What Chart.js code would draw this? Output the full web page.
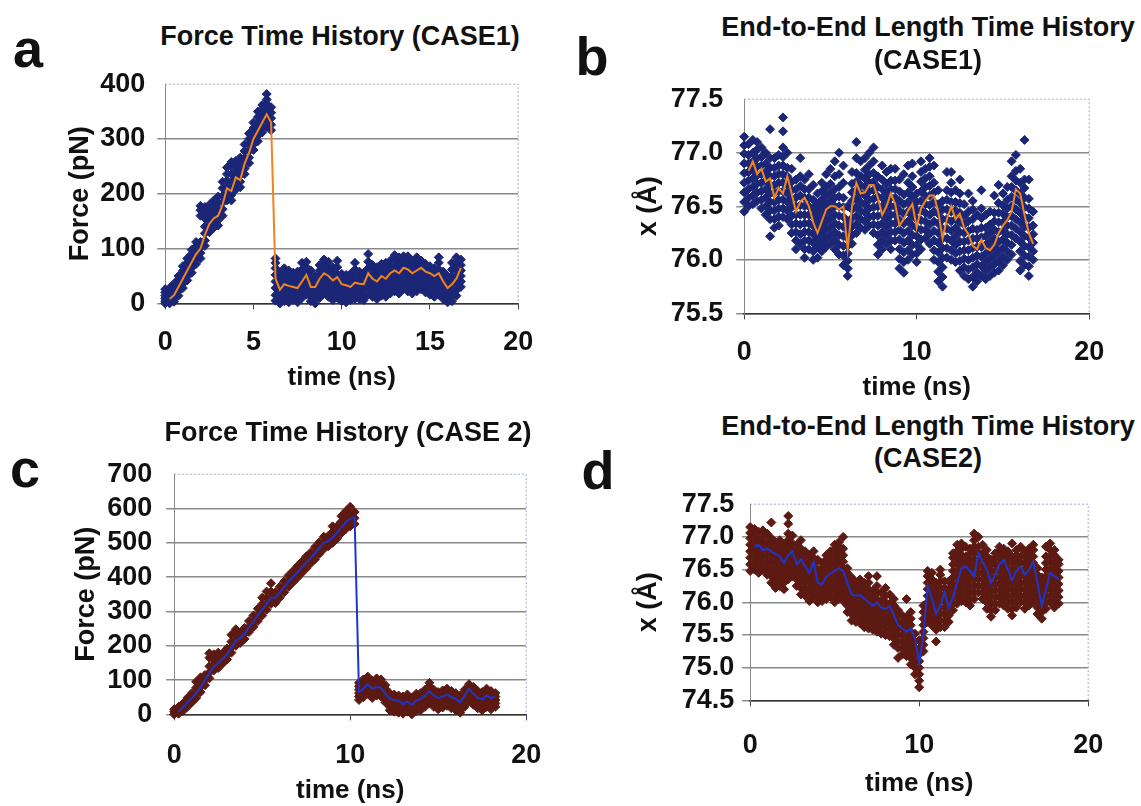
<!DOCTYPE html>
<html>
<head>
<meta charset="utf-8">
<script src="https://cdn.jsdelivr.net/npm/chart.js@4.4.1/dist/chart.umd.min.js"></script>
<style>
  body { margin: 0; background: #fff; width: 1141px; height: 806px; position: relative; overflow: hidden;
         font-family: "Liberation Sans", Arial, sans-serif; font-weight: bold; color: #111; }
  .txt { position: absolute; transform: translate(-50%, -50%); white-space: nowrap; line-height: 1; }
  canvas { position: absolute; }
</style>
</head>
<body>
<script>
// sampling times (ns)
const timeCase1 = [0,0.25,0.5,0.75,1,1.25,1.5,1.75,2,2.25,2.5,2.75,3,3.25,3.5,3.75,4,4.25,4.5,4.75,5,5.25,5.5,5.75,6,6.25,6.5,6.75,7,7.25,7.5,7.75,8,8.25,8.5,8.75,9,9.25,9.5,9.75,10,10.25,10.5,10.75,11,11.25,11.5,11.75,12,12.25,12.5,12.75,13,13.25,13.5,13.75,14,14.25,14.5,14.75,15,15.25,15.5,15.75,16,16.25,16.5,16.75];
const timeCase2 = [0,0.25,0.5,0.75,1,1.25,1.5,1.75,2,2.25,2.5,2.75,3,3.25,3.5,3.75,4,4.25,4.5,4.75,5,5.25,5.5,5.75,6,6.25,6.5,6.75,7,7.25,7.5,7.75,8,8.25,8.5,8.75,9,9.25,9.5,9.75,10,10.25,10.5,10.75,11,11.25,11.5,11.75,12,12.25,12.5,12.75,13,13.25,13.5,13.75,14,14.25,14.5,14.75,15,15.25,15.5,15.75,16,16.25,16.5,16.75,17,17.25,17.5,17.75,18,18.25];

// running averages (line)
const forceCase1Avg = [null,8,15,30,45,60,75,90,100,125,145,155,160,180,210,205,230,225,255,275,300,315,330,345,330,45,25,35,32,30,28,40,52,30,30,45,55,50,42,48,35,33,30,38,36,35,55,45,40,50,45,55,60,55,65,62,55,60,65,58,55,50,55,40,28,35,45,65];
const lengthCase1Avg = [null,76.83,76.92,76.80,76.85,76.73,76.76,76.58,76.67,76.62,76.78,76.62,76.45,76.54,76.58,76.50,76.35,76.25,76.36,76.47,76.50,76.50,76.47,76.50,76.10,76.50,76.72,76.62,76.63,76.70,76.70,76.58,76.42,76.50,76.62,76.52,76.32,76.38,76.46,76.52,76.30,76.48,76.55,76.60,76.60,76.45,76.20,76.38,76.50,76.38,76.43,76.30,76.24,76.13,76.10,76.19,76.11,76.09,76.14,76.25,76.32,76.37,76.45,76.66,76.62,76.42,76.25,76.15];
const forceCase2Avg = [null,8,20,35,48,62,80,100,120,140,150,162,175,195,215,222,235,255,270,290,305,322,340,340,355,372,388,400,415,428,442,455,470,485,500,505,515,530,545,560,570,575,65,75,88,75,80,78,60,45,42,40,30,38,28,40,45,55,68,55,48,52,58,50,45,35,55,75,60,48,44,55,48,52];
const lengthCase2Avg = [null,76.85,76.88,76.80,76.82,76.78,76.74,76.70,76.60,76.72,76.78,76.58,76.66,76.55,76.45,76.62,76.30,76.28,76.39,76.44,76.48,76.52,76.48,76.30,76.12,76.10,76.11,76.06,76.00,75.95,76.00,75.92,75.90,75.94,75.80,75.65,75.60,75.55,75.60,75.45,75.08,75.50,76.25,76.05,75.82,75.95,76.15,75.92,76.08,76.30,76.52,76.55,76.48,76.40,76.75,76.62,76.50,76.30,76.42,76.58,76.65,76.50,76.34,76.48,76.55,76.42,76.50,76.62,76.30,75.95,76.20,76.45,76.40,76.35];

// raw samples, one list per sampling time
const forceCase1Raw = [
  [0,4,9,14,20,26],[0,5,10,16,22,28],[3,10,17,24,30,36],[14,22,29,36,44,50],
  [28,36,44,52,60,68],[42,50,58,66,74,82],[56,65,73,81,90,98],[72,80,88,96,104,112],
  [82,92,102,112,160,170,178],[105,115,128,140,155,165,176],[130,140,150,160,170,180],[138,148,158,168,178,188],
  [142,152,162,172,184,195],[160,172,184,196,210,222],[188,200,212,224,236,248],[188,198,210,222,236,250,258],
  [208,218,230,240,250,260],[212,222,234,246,258,266],[236,246,256,266,278,290],[256,266,278,290,300,310],
  [280,290,300,310,320,330],[296,306,318,328,340,350],[312,322,334,344,354,362],[322,332,344,354,364,372,382],
  [316,326,338,348,358],[5,15,28,40,52,64,74,82],[0,8,18,28,38,48,56],[4,14,24,34,44,54,64],
  [2,12,22,32,42,52,60],[6,16,26,36,46,56],[2,10,20,30,40,48,58],[10,20,30,40,50,62,74],
  [16,26,36,46,56,66,76],[4,12,22,32,42,50,60],[0,10,20,30,40,50],[10,20,30,40,50,60,70],
  [18,28,40,50,60,70,80],[12,22,34,46,56,66,76],[6,16,26,36,46,56,66],[10,20,32,44,54,66,78],
  [4,14,24,34,44,54],[2,12,22,32,42,52],[6,14,24,34,44,54],[8,18,28,38,50,62,74],
  [8,18,28,38,48,58],[6,16,26,36,46,56],[16,28,40,52,64,76,90],[12,22,32,42,52,62,70],
  [8,18,28,38,48,58,66],[14,24,34,44,54,64,72],[12,22,32,42,52,62,74],[18,28,38,48,58,68,78],
  [22,32,44,56,66,78,88],[18,28,40,50,60,72,84],[26,36,48,58,68,78,86],[22,34,44,56,66,76,86],
  [18,28,40,50,60,70,78],[22,32,44,54,64,74,84],[26,36,48,58,68,78],[20,30,42,52,62,72],
  [16,26,38,48,58,68],[12,22,34,44,54,64],[16,28,40,50,62,74,84],[8,18,28,38,48,58],
  [2,10,20,30,40,50],[4,14,26,38,50,62,74],[14,24,36,48,60,72,84],[30,40,50,60,70,80]
];
const lengthCase1Raw = [
  [76.45,76.54,76.63,76.72,76.81,76.90,76.99,77.07,77.15],
  [76.50,76.58,76.66,76.74,76.82,76.90,76.98,77.08],
  [76.52,76.60,76.68,76.76,76.84,76.92,77.00,77.12],
  [76.55,76.63,76.71,76.79,76.87,76.95,77.03,77.10],
  [76.48,76.56,76.64,76.72,76.80,76.88,76.96,77.05],
  [76.42,76.50,76.58,76.66,76.74,76.82,76.90,77.00],
  [76.22,76.38,76.46,76.54,76.62,76.70,76.78,76.86,76.95,77.22],
  [76.30,76.38,76.46,76.54,76.62,76.70,76.78,76.86,76.95],
  [76.32,76.40,76.48,76.56,76.64,76.72,76.80,76.88,76.98],
  [76.40,76.48,76.56,76.64,76.72,76.80,76.88,76.96,77.05,77.20,77.33],
  [76.38,76.46,76.54,76.62,76.70,76.78,76.86,77.00],
  [76.25,76.33,76.41,76.49,76.57,76.65,76.73,76.85],
  [76.10,76.18,76.26,76.34,76.42,76.50,76.58,76.66,76.75],
  [76.15,76.24,76.33,76.42,76.51,76.60,76.69,76.78,76.95],
  [76.02,76.10,76.18,76.26,76.34,76.42,76.50,76.58,76.66,76.75],
  [76.10,76.18,76.26,76.34,76.42,76.50,76.58,76.66,76.80],
  [76.00,76.08,76.16,76.24,76.32,76.40,76.48,76.56,76.70],
  [76.02,76.12,76.20,76.28,76.36,76.44,76.52,76.62],
  [76.08,76.16,76.24,76.32,76.40,76.48,76.56,76.64,76.72],
  [76.12,76.20,76.28,76.36,76.44,76.52,76.60,76.68,76.80],
  [76.15,76.23,76.31,76.39,76.47,76.55,76.63,76.71,76.85],
  [76.10,76.18,76.26,76.34,76.42,76.50,76.58,76.66,76.78,76.92],
  [76.05,76.14,76.23,76.32,76.41,76.50,76.59,76.68,76.80,77.00],
  [75.95,76.04,76.13,76.22,76.31,76.40,76.49,76.58,76.72,76.88],
  [75.85,75.92,75.99,76.06,76.13,76.20,76.28,76.36,76.50],
  [76.15,76.23,76.31,76.39,76.47,76.55,76.63,76.71,76.82],
  [76.25,76.33,76.41,76.49,76.57,76.65,76.73,76.81,76.95,77.10],
  [76.30,76.38,76.46,76.54,76.62,76.70,76.78,76.92],
  [76.28,76.36,76.44,76.52,76.60,76.68,76.76,76.84,76.95],
  [76.32,76.40,76.48,76.56,76.64,76.72,76.80,76.88,77.00],
  [76.25,76.33,76.41,76.49,76.57,76.65,76.73,76.81,76.92,77.05],
  [76.05,76.14,76.23,76.32,76.41,76.50,76.59,76.68,76.78],
  [76.10,76.18,76.26,76.34,76.42,76.50,76.58,76.66,76.75,76.88],
  [76.15,76.23,76.31,76.39,76.47,76.55,76.63,76.71,76.82],
  [76.10,76.18,76.26,76.34,76.42,76.50,76.58,76.66,76.74,76.85],
  [76.18,76.26,76.34,76.42,76.50,76.58,76.66,76.74,76.85],
  [75.92,76.01,76.10,76.19,76.28,76.37,76.46,76.55,76.64,76.75],
  [75.88,75.98,76.07,76.16,76.25,76.34,76.43,76.52,76.61,76.80],
  [76.00,76.09,76.18,76.27,76.36,76.45,76.54,76.63,76.72,76.88],
  [76.05,76.14,76.23,76.32,76.41,76.50,76.59,76.68,76.78,76.90],
  [75.98,76.06,76.14,76.22,76.30,76.38,76.46,76.54,76.62],
  [76.10,76.19,76.28,76.37,76.46,76.55,76.64,76.73,76.82,76.92],
  [76.20,76.28,76.36,76.44,76.52,76.60,76.68,76.76,76.85],
  [76.15,76.24,76.33,76.42,76.51,76.60,76.69,76.78,76.87,76.95],
  [76.00,76.09,76.18,76.27,76.36,76.45,76.54,76.63,76.72,76.88],
  [75.80,75.89,75.98,76.07,76.16,76.25,76.34,76.43,76.52,76.65],
  [75.75,75.84,75.93,76.02,76.11,76.20,76.29,76.38,76.47,76.55],
  [76.02,76.11,76.20,76.29,76.38,76.47,76.56,76.65,76.82],
  [76.00,76.09,76.18,76.27,76.36,76.45,76.54,76.63,76.72,76.82],
  [75.98,76.06,76.14,76.22,76.30,76.38,76.46,76.54,76.65],
  [75.90,75.99,76.08,76.17,76.26,76.35,76.44,76.53,76.62,76.75],
  [75.85,75.93,76.01,76.09,76.17,76.25,76.33,76.41,76.52],
  [75.82,75.91,76.00,76.09,76.18,76.27,76.36,76.45,76.62],
  [75.75,75.84,75.93,76.02,76.11,76.20,76.29,76.38,76.47,76.55],
  [75.80,75.88,75.96,76.04,76.12,76.20,76.28,76.42],
  [75.85,75.94,76.03,76.12,76.21,76.30,76.39,76.48,76.65],
  [75.82,75.90,75.98,76.06,76.14,76.22,76.30,76.42],
  [75.85,75.93,76.01,76.09,76.17,76.25,76.33,76.45],
  [75.88,75.96,76.04,76.12,76.20,76.28,76.36,76.44,76.60],
  [75.90,75.99,76.08,76.17,76.26,76.35,76.44,76.53,76.70],
  [75.95,76.03,76.11,76.19,76.27,76.35,76.43,76.51,76.62],
  [76.00,76.08,76.16,76.24,76.32,76.40,76.48,76.56,76.68],
  [76.05,76.14,76.23,76.32,76.41,76.50,76.59,76.68,76.78,76.92],
  [76.20,76.29,76.38,76.47,76.56,76.65,76.74,76.83,76.98],
  [75.90,75.99,76.08,76.17,76.26,76.35,76.44,76.53,76.62,76.72,76.85],
  [75.95,76.04,76.13,76.22,76.31,76.40,76.49,76.58,76.67,76.75,77.12],
  [75.85,75.94,76.03,76.12,76.21,76.30,76.39,76.48,76.57,76.75],
  [76.00,76.08,76.16,76.24,76.32,76.45]
];
const forceCase2Raw = [
  [0,8,15],[2,12,22],[10,22,32],[22,35,48],
  [35,48,62],[48,62,78,95],[65,80,95,108],[85,100,115],
  [105,122,140,165,178],[128,145,160,175],[135,150,165,180],[148,162,178],
  [160,175,192],[180,196,212,232],[200,215,232,248],[208,222,238],
  [220,235,252],[240,255,272],[255,270,288],[272,290,308],
  [288,305,322,340],[305,322,340,358],[322,340,358,382],[325,340,356],
  [340,355,372],[356,372,388],[372,388,405],[385,400,418],
  [398,415,432],[412,428,445],[425,442,460],[440,455,472],
  [452,470,488],[468,485,502],[482,500,518],[490,505,520],
  [500,515,532,548],[512,530,548],[528,545,562,578],[540,558,575,592],
  [548,565,582,605],[555,572,590],[42,52,62,72,82,92],[50,60,70,80,90,102],
  [60,70,80,90,100,110],[48,58,68,78,88,98],[55,65,75,85,95,105],[52,62,72,82,92,102],
  [35,45,55,65,75,85],[12,22,32,42,52,62],[8,18,28,38,48,58],[5,15,25,35,45,55],
  [2,12,22,32,42,52],[8,18,28,38,48,58],[0,10,20,30,40,48],[10,20,30,40,50,60],
  [12,22,32,42,52,62],[22,32,42,52,62,72],[32,42,52,62,72,82,92],[22,32,42,52,62,72],
  [15,25,35,45,55,65],[20,30,40,50,60,70],[25,35,45,55,65,75],[18,28,38,48,58,68],
  [12,22,32,42,52,62],[5,15,25,35,45,55],[22,32,42,52,62,72],[38,48,58,68,78,88],
  [28,38,48,58,68,80],[18,28,38,48,58,68],[12,22,32,42,52,65],[22,32,42,52,62,75],
  [15,25,35,45,55,68],[22,32,42,52,62]
];
const lengthCase2Raw = [
  [76.48,76.58,76.68,76.78,76.88,76.98,77.06,77.15],
  [76.50,76.60,76.70,76.80,76.90,77.00,77.12],
  [76.45,76.55,76.65,76.75,76.85,76.95,77.08],
  [76.50,76.60,76.70,76.80,76.90,77.00,77.10],
  [76.42,76.52,76.62,76.72,76.82,76.92,77.05],
  [76.30,76.40,76.50,76.60,76.70,76.80,76.90,76.98,77.22],
  [76.22,76.32,76.42,76.52,76.62,76.72,76.82,76.92],
  [76.25,76.35,76.45,76.55,76.65,76.75,76.85,76.95],
  [76.20,76.30,76.40,76.50,76.60,76.70,76.80,76.90],
  [76.35,76.45,76.55,76.65,76.75,76.85,76.95,77.05,77.20,77.32],
  [76.40,76.50,76.60,76.70,76.80,76.90,77.02],
  [76.25,76.35,76.45,76.55,76.65,76.75,76.88],
  [76.12,76.22,76.32,76.42,76.52,76.62,76.72,76.82,76.95],
  [76.10,76.20,76.30,76.40,76.50,76.60,76.70,76.78],
  [76.02,76.12,76.22,76.32,76.42,76.52,76.62,76.72],
  [76.08,76.18,76.28,76.38,76.48,76.58,76.68,76.78],
  [76.00,76.10,76.20,76.30,76.40,76.50,76.65],
  [76.02,76.12,76.22,76.32,76.42,76.52,76.60],
  [76.05,76.15,76.25,76.35,76.45,76.55,76.65,76.72],
  [76.08,76.18,76.28,76.38,76.48,76.58,76.68,76.78],
  [76.00,76.10,76.20,76.30,76.40,76.50,76.60,76.70,76.80,76.88],
  [76.05,76.15,76.25,76.35,76.45,76.55,76.65,76.75,76.85,76.92],
  [76.02,76.12,76.22,76.32,76.42,76.52,76.62,76.72,76.82,77.00],
  [75.85,75.95,76.05,76.15,76.25,76.35,76.45,76.52],
  [75.72,75.82,75.92,76.02,76.12,76.22,76.30,76.38],
  [75.70,75.80,75.90,76.00,76.10,76.20,76.30],
  [75.68,75.78,75.88,75.98,76.08,76.18,76.28,76.35],
  [75.62,75.72,75.82,75.92,76.02,76.12,76.22,76.30],
  [75.60,75.70,75.80,75.90,76.00,76.10,76.20,76.30,76.40],
  [75.58,75.68,75.78,75.88,75.98,76.08,76.18],
  [75.55,75.65,75.75,75.85,75.95,76.05,76.15,76.25,76.40],
  [75.52,75.62,75.72,75.82,75.92,76.02,76.15],
  [75.50,75.60,75.70,75.80,75.90,76.00,76.10,76.22],
  [75.48,75.58,75.68,75.78,75.88,75.98,76.12],
  [75.35,75.45,75.55,75.65,75.75,75.85,75.95,76.05],
  [75.15,75.30,75.40,75.50,75.60,75.70,75.80,75.88],
  [75.20,75.30,75.40,75.50,75.60,75.70,75.80],
  [75.18,75.28,75.38,75.48,75.58,75.68,75.78,76.05],
  [75.05,75.15,75.25,75.35,75.45,75.55,75.65,75.75,75.85],
  [74.90,75.00,75.10,75.20,75.30,75.40,75.52],
  [74.70,74.80,74.90,75.00,75.10,75.20,75.30,75.42],
  [75.25,75.35,75.45,75.55,75.65,75.75,75.85,75.95],
  [75.70,75.80,75.90,76.00,76.10,76.20,76.30,76.40,76.48],
  [75.65,75.75,75.85,75.95,76.05,76.15,76.25,76.35,76.45],
  [75.40,75.58,75.68,75.78,75.88,75.98,76.08,76.18,76.30],
  [75.62,75.72,75.82,75.92,76.02,76.12,76.22,76.32,76.42,76.50],
  [75.62,75.72,75.82,75.92,76.02,76.12,76.22,76.32],
  [75.70,75.80,75.90,76.00,76.10,76.20,76.32],
  [75.88,75.98,76.08,76.18,76.28,76.38,76.48,76.58,76.68,76.75],
  [75.98,76.08,76.18,76.28,76.38,76.48,76.58,76.68,76.78,76.88],
  [76.02,76.12,76.22,76.32,76.42,76.52,76.62,76.72,76.82,76.90],
  [76.00,76.10,76.20,76.30,76.40,76.50,76.60,76.70,76.85],
  [75.95,76.05,76.15,76.25,76.35,76.45,76.55,76.65,76.75,76.82],
  [76.05,76.15,76.25,76.35,76.45,76.55,76.65,76.75,76.85,76.95,77.05],
  [76.15,76.25,76.35,76.45,76.55,76.65,76.75,76.85,77.00],
  [76.05,76.15,76.25,76.35,76.45,76.55,76.65,76.75,76.88],
  [75.90,76.00,76.10,76.20,76.30,76.40,76.50,76.60,76.70,76.80],
  [75.78,75.88,75.98,76.08,76.18,76.28,76.38,76.48,76.58,76.65],
  [75.88,75.98,76.08,76.18,76.28,76.38,76.48,76.58,76.68,76.75],
  [75.98,76.08,76.18,76.28,76.38,76.48,76.58,76.68,76.78,76.85],
  [75.95,76.05,76.15,76.25,76.35,76.45,76.55,76.65,76.75,76.82],
  [75.90,76.00,76.10,76.20,76.30,76.40,76.50,76.60,76.70,76.78],
  [75.80,75.90,76.00,76.10,76.20,76.30,76.40,76.50,76.60,76.70,76.90],
  [75.92,76.02,76.12,76.22,76.32,76.42,76.52,76.62,76.72,76.80],
  [76.00,76.10,76.20,76.30,76.40,76.50,76.60,76.70,76.85],
  [75.90,76.00,76.10,76.20,76.30,76.40,76.50,76.60,76.70,76.78],
  [75.95,76.05,76.15,76.25,76.35,76.45,76.55,76.65,76.75,76.82],
  [76.00,76.10,76.20,76.30,76.40,76.50,76.60,76.70,76.80,76.88],
  [75.82,75.92,76.02,76.12,76.22,76.32,76.42,76.52],
  [75.75,75.85,75.95,76.05,76.15,76.25,76.38],
  [75.90,76.00,76.10,76.20,76.30,76.40,76.50,76.60,76.70,76.85],
  [76.00,76.10,76.20,76.30,76.40,76.50,76.60,76.70,76.80,76.90],
  [75.92,76.02,76.12,76.22,76.32,76.42,76.52,76.62,76.72,76.80],
  [75.98,76.08,76.18,76.28,76.38,76.48,76.58,76.65]
];

const FONT = '"Liberation Sans", Arial, sans-serif';
const TICK = 27;
Chart.defaults.font.family = FONT;
Chart.defaults.font.weight = 'bold';
Chart.defaults.color = '#111';

function rawPoints(times, raw) {
  const pts = [];
  raw.forEach((vals, i) => vals.forEach(v => pts.push({ x: times[i], y: v })));
  return pts;
}
function avgPoints(times, avg) {
  return avg.map((v, i) => ({ x: times[i], y: v }));
}

function addText(txt, x, y, size) {
  const d = document.createElement('div');
  d.className = 'txt';
  d.textContent = txt;
  d.style.left = x + 'px';
  d.style.top = y + 'px';
  d.style.fontSize = size + 'px';
  document.body.appendChild(d);
}

// dotted top and right edges of the plot area, like the spreadsheet frame
const framePlugin = {
  id: 'frame',
  beforeDatasetsDraw(chart) {
    const { ctx, chartArea: a } = chart;
    ctx.save();
    ctx.strokeStyle = '#9aaad6';
    ctx.lineWidth = 1;
    ctx.setLineDash([2, 2]);
    ctx.beginPath();
    ctx.moveTo(a.left, a.top);
    ctx.lineTo(a.right, a.top);
    ctx.lineTo(a.right, a.bottom);
    ctx.stroke();
    ctx.restore();
  }
};

function makePanel(p) {
  const [pl, pt, pr, pb] = p.plot;
  const half = TICK * 1.2 / 2;
  const yPad = p.yGap - 8;
  const xPad = p.xTickY - pb - 6 - half;
  const padTop = half + yPad + 1;
  const padRight = 17 + xPad + 4;
  const left = p.yTitleX - (27 * 1.2 / 2 + 4);
  const top = pt - padTop;
  const right = pr + padRight;
  const bottom = p.xTitleY + (26 * 1.2 / 2 + 4);
  const yW = pl - left, xH = bottom - pb;

  const cv = document.createElement('canvas');
  cv.width = Math.round(right - left);
  cv.height = Math.round(bottom - top);
  cv.style.left = left + 'px';
  cv.style.top = top + 'px';
  document.body.appendChild(cv);

  new Chart(cv, {
    type: 'scatter',
    data: {
      datasets: [
        {
          type: 'line',
          data: avgPoints(p.times, p.avg),
          borderColor: p.lineColor,
          borderWidth: p.lineWidth,
          pointRadius: 0,
          tension: 0,
          fill: false
        },
        {
          data: rawPoints(p.times, p.raw),
          pointStyle: 'rectRot',
          pointRadius: p.radius,
          backgroundColor: p.dotColor,
          borderColor: p.dotColor,
          borderWidth: 1,
          clip: false
        }
      ]
    },
    options: {
      responsive: false,
      animation: false,
      devicePixelRatio: 1,
      layout: { padding: { top: padTop, right: padRight, left: 0, bottom: 0 } },
      plugins: { legend: { display: false }, tooltip: { enabled: false } },
      scales: {
        x: {
          type: 'linear', min: 0, max: 20,
          ticks: { stepSize: p.xStep, padding: xPad, font: { size: TICK }, maxRotation: 0, autoSkip: false },
          grid: { drawOnChartArea: false, drawTicks: true, tickLength: 6, color: '#444' },
          border: { color: '#333', width: 1.5 },
          title: { display: true, text: 'time (ns)', font: { size: 26 } },
          afterFit: s => { s.height = xH; }
        },
        y: {
          min: p.yMin, max: p.yMax,
          ticks: { stepSize: p.yStep, padding: yPad, font: { size: TICK }, autoSkip: false,
                   callback: v => p.yDec ? v.toFixed(1) : v },
          grid: {
            tickLength: 8, lineWidth: 1.5,
            color: c => {
              const v = c.tick ? c.tick.value : null;
              if (v !== null && Math.abs(v - p.yMax) < 1e-6) return 'rgba(0,0,0,0)';
              return '#8a8a8a';
            }
          },
          border: { color: '#888', width: 1 },
          title: { display: true, text: p.yTitle, font: { size: 27 } },
          afterFit: s => { s.width = yW; }
        }
      }
    },
    plugins: [framePlugin]
  });

  p.titleLines.forEach((t, i) => addText(t, p.titleX, p.titleY[i], 27));
  addText(p.letter, p.letterX, p.letterY, 54);
}

makePanel({
  times: timeCase1, avg: forceCase1Avg, raw: forceCase1Raw,
  plot: [165, 84, 518, 303], yTitleX: 80, xTitleY: 377, xTickY: 342, yGap: 20,
  xStep: 5, yMin: 0, yMax: 400, yStep: 100, yDec: false, yTitle: 'Force (pN)',
  lineColor: '#f0841e', lineWidth: 2, dotColor: '#1b2676', radius: 4.5,
  titleLines: ['Force Time History (CASE1)'], titleX: 340, titleY: [36],
  letter: 'a', letterX: 28, letterY: 48
});
makePanel({
  times: timeCase1, avg: lengthCase1Avg, raw: lengthCase1Raw,
  plot: [744, 99, 1089, 313], yTitleX: 648, xTitleY: 387, xTickY: 352, yGap: 21,
  xStep: 10, yMin: 75.5, yMax: 77.5, yStep: 0.5, yDec: true, yTitle: 'x (Å)',
  lineColor: '#f0841e', lineWidth: 2, dotColor: '#1b2676', radius: 4.5,
  titleLines: ['End-to-End Length Time History', '(CASE1)'], titleX: 928, titleY: [27, 60],
  letter: 'b', letterX: 592, letterY: 56
});
makePanel({
  times: timeCase2, avg: forceCase2Avg, raw: forceCase2Raw,
  plot: [174, 474, 526, 714], yTitleX: 86, xTitleY: 790, xTickY: 755, yGap: 22,
  xStep: 10, yMin: 0, yMax: 700, yStep: 100, yDec: false, yTitle: 'Force (pN)',
  lineColor: '#1f35c8', lineWidth: 2, dotColor: '#5c1a12', radius: 4.5,
  titleLines: ['Force Time History (CASE 2)'], titleX: 348, titleY: [432],
  letter: 'c', letterX: 25, letterY: 468
});
makePanel({
  times: timeCase2, avg: lengthCase2Avg, raw: lengthCase2Raw,
  plot: [750, 504, 1088, 700], yTitleX: 648, xTitleY: 783, xTickY: 745, yGap: 16,
  xStep: 10, yMin: 74.5, yMax: 77.5, yStep: 0.5, yDec: true, yTitle: 'x (Å)',
  lineColor: '#1f35c8', lineWidth: 2, dotColor: '#5c1a12', radius: 4.5,
  titleLines: ['End-to-End Length Time History', '(CASE2)'], titleX: 928, titleY: [426, 458],
  letter: 'd', letterX: 598, letterY: 470
});
</script>
</body>
</html>
